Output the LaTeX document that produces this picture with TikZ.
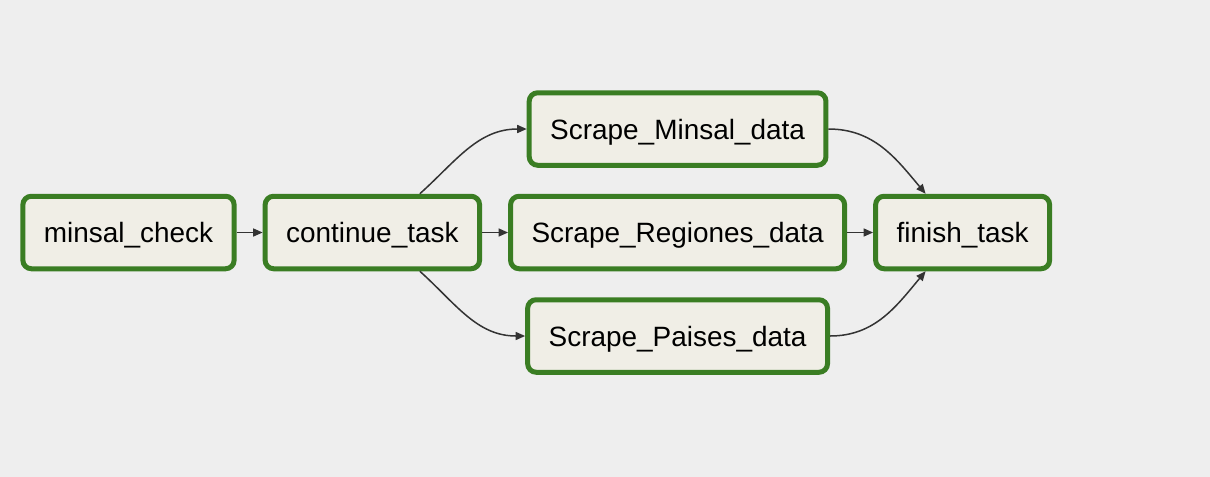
\documentclass[tikz,border=0pt]{standalone}
\usepackage{fontspec}
\setmainfont{Liberation Sans}
\usetikzlibrary{arrows.meta, positioning}

\definecolor{canvas}{RGB}{238,238,238}
\definecolor{taskfill}{RGB}{240,238,230}
\definecolor{taskgreen}{RGB}{58,125,35}
\definecolor{edgegray}{RGB}{51,51,51}

\begin{document}
\begin{tikzpicture}[
    node distance=0.52cm,
    task/.style={draw=taskgreen, fill=taskfill, line width=0.1cm, rounded corners=0.17cm,
        minimum height=1.45cm, inner xsep=0.42cm, text height=0.4cm, text depth=0pt,
        font=\fontsize{15.9}{19}\selectfont},
    dep/.style={draw=edgegray, line width=0.03cm, -{Triangle[length=0.19cm, width=0.16cm]}},
]
    \useasboundingbox (0,0) rectangle (24.2,-9.52);
    \fill[canvas] (-0.1,0.1) rectangle (24.3,-9.62);

    \node[task] (minsal) at (2.57,-4.65) {minsal\_check};
    \node[task, right=of minsal] (continue) {continue\_task};
    \node[task, right=of continue] (regiones) {Scrape\_Regiones\_data};
    \node[task, above=of regiones] (scrapeminsal) {Scrape\_Minsal\_data};
    \node[task, below=of regiones] (paises) {Scrape\_Paises\_data};
    \node[task, right=of regiones] (finish) {finish\_task};

    % Dependencies
    \draw[dep] (minsal) -- (continue);
    \draw[dep] (continue) -- (regiones);
    \draw[dep] (regiones) -- (finish);
    \draw[dep] ([xshift=0.95cm]continue.north) to[out=42, in=180] (scrapeminsal.west);
    \draw[dep] ([xshift=0.95cm]continue.south) to[out=-42, in=180] (paises.west);
    \draw[dep] (scrapeminsal.east) to[out=0, in=130] ([xshift=-0.74cm]finish.north);
    \draw[dep] (paises.east) to[out=0, in=-130] ([xshift=-0.74cm]finish.south);
\end{tikzpicture}
\end{document}
